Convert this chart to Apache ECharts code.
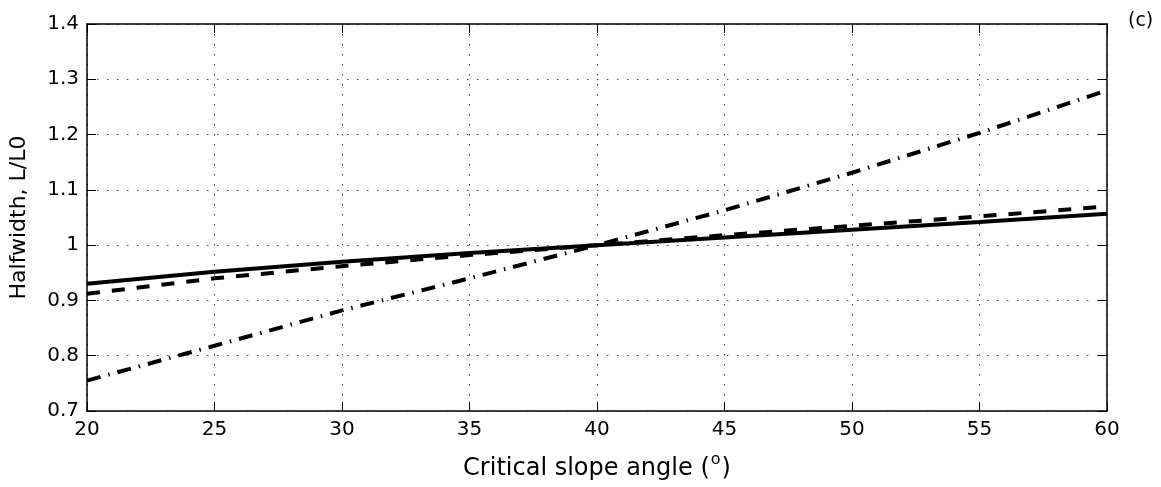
<!DOCTYPE html>
<html>
<head>
<meta charset="utf-8">
<script src="https://cdn.jsdelivr.net/npm/echarts@6/dist/echarts.min.js"></script>
<style>
  html, body { margin: 0; padding: 0; background: #fff; }
  #chart { width: 1161px; height: 487px; }
</style>
</head>
<body>
<div id="chart"></div>
<script>
  // critical slope angle (deg)
  var angles = [20, 25, 30, 35, 40, 45, 50, 55, 60];
  // halfwidth L/L0
  var solidVals = [0.930, 0.952, 0.970, 0.986, 1.000, 1.014, 1.028, 1.042, 1.057];
  var dashVals = [0.912, 0.940, 0.962, 0.982, 1.000, 1.018, 1.035, 1.052, 1.070];
  var dashDotVals = [0.755, 0.818, 0.882, 0.940, 1.000, 1.063, 1.131, 1.203, 1.280];

  function pairs(vals) {
    return angles.map(function (a, i) { return [a, vals[i]]; });
  }

  var font = 'DejaVu Sans, Liberation Sans, sans-serif';
  var gridLine = { show: true, lineStyle: { color: '#444', width: 1, type: [1.5, 8.5] } };
  var boxLine = { show: true, lineStyle: { color: '#000', width: 1.5 } };
  var ticks = { show: true, inside: true, length: 9, lineStyle: { color: '#000' } };

  var myChart = echarts.init(document.getElementById('chart'));
  var option = {
    animation: false,
    backgroundColor: '#fff',
    title: {
      text: '(c)',
      left: 1123,
      top: 7,
      textStyle: { fontFamily: font, fontSize: 19, fontWeight: 'normal', color: '#000' }
    },
    grid: { left: 86, right: 54, top: 24, bottom: 76 },
    xAxis: [
      {
        type: 'value', min: 20, max: 60, interval: 5,
        name: '{m|Critical slope angle (}{sup|o}{m|)}',
        nameLocation: 'middle', nameGap: 41,
        nameTextStyle: {
          rich: {
            m: { fontFamily: font, fontSize: 24, color: '#000', verticalAlign: 'bottom' },
            sup: { fontFamily: font, fontSize: 16, color: '#000', verticalAlign: 'bottom', padding: [0, 1, 13, 1] }
          }
        },
        axisLine: boxLine,
        axisTick: ticks,
        axisLabel: { fontFamily: font, fontSize: 20, color: '#000', margin: 9 },
        splitLine: gridLine
      },
      {
        type: 'value', min: 20, max: 60, interval: 5, position: 'top',
        axisLine: boxLine,
        axisTick: ticks,
        axisLabel: { show: false },
        splitLine: { show: false }
      }
    ],
    yAxis: [
      {
        type: 'value', min: 0.7, max: 1.4, interval: 0.1,
        name: 'Halfwidth, L/L0',
        nameLocation: 'middle', nameGap: 57,
        nameTextStyle: { fontFamily: font, fontSize: 22, color: '#000' },
        axisLine: boxLine,
        axisTick: ticks,
        axisLabel: { fontFamily: font, fontSize: 20, color: '#000', margin: 8 },
        splitLine: gridLine
      },
      {
        type: 'value', min: 0.7, max: 1.4, interval: 0.1, position: 'right',
        axisLine: boxLine,
        axisTick: ticks,
        axisLabel: { show: false },
        splitLine: { show: false }
      }
    ],
    series: [
      {
        name: 'solid', type: 'line', showSymbol: false, data: pairs(solidVals),
        lineStyle: { color: '#000', width: 4, type: 'solid' }
      },
      {
        name: 'dashed', type: 'line', showSymbol: false, data: pairs(dashVals),
        lineStyle: { color: '#000', width: 4, type: [13, 12] }
      },
      {
        name: 'dashdot', type: 'line', showSymbol: false, data: pairs(dashDotVals),
        lineStyle: { color: '#000', width: 4, type: [14, 8, 1.5, 8] }
      }
    ]
  };
  myChart.setOption(option);
</script>
</body>
</html>
